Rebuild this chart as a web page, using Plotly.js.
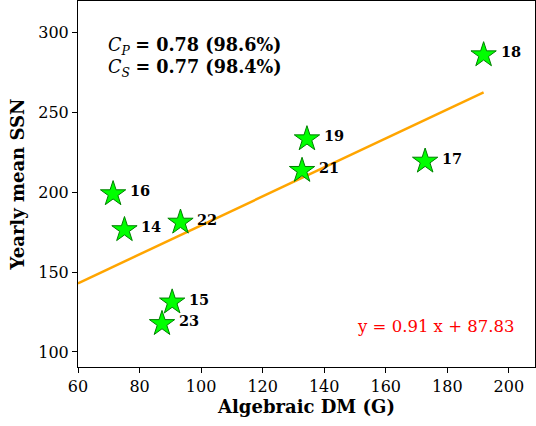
<!DOCTYPE html>
<html>
<head>
<meta charset="utf-8">
<script src="https://cdn.plot.ly/plotly-3.0.1.min.js"></script>
<style>html,body{margin:0;padding:0;background:#fff;}#chart{width:536px;height:426px;}</style>
</head>
<body>
<div id="chart"></div>
<script>
// Data
const cycles = ["14","15","16","17","18","19","21","22","23"];
const dmValues = [75.1, 90.6, 71.4, 172.8, 191.8, 134.4, 132.8, 93.3, 87.3];
const ssnValues = [176.5, 131.2, 199.0, 219.4, 286.0, 233.4, 213.6, 181.2, 117.7];
const fitX = [60, 191.8];
const fitY = [143.0, 262.6];
const statsLines = ["<i>C</i><sub><i>P</i></sub> <b>= 0.78 (98.6%)</b>", "<i>C</i><sub><i>S</i></sub> <b>= 0.77 (98.4%)</b>"];
const equationText = "y = 0.91 x + 87.83";

const serif = "DejaVu Serif";

const traces = [
  {
    x: fitX, y: fitY, mode: "lines", type: "scatter",
    line: {color: "orange", width: 2.5}, hoverinfo: "skip"
  },
  {
    x: dmValues, y: ssnValues, mode: "markers", type: "scatter",
    marker: {symbol: "star", size: 19, color: "#00ff00", line: {color: "#008000", width: 1}}
  }
];

const annotations = cycles.map((c, i) => ({
  x: dmValues[i], y: ssnValues[i], xref: "x", yref: "y",
  text: "<b>" + c + "</b>", showarrow: false,
  xanchor: "left", yanchor: "middle", xshift: 15, yshift: 3,
  font: {family: serif, size: 14.5, color: "black"}
}));

annotations.push({
  xref: "paper", yref: "paper", x: 0.061, y: 0.877,
  text: statsLines[0], showarrow: false, xanchor: "left", yanchor: "middle",
  font: {family: serif, size: 17.6, color: "black"}
});
annotations.push({
  xref: "paper", yref: "paper", x: 0.061, y: 0.818,
  text: statsLines[1], showarrow: false, xanchor: "left", yanchor: "middle",
  font: {family: serif, size: 17.6, color: "black"}
});
annotations.push({
  xref: "x", yref: "y", x: 150, y: 116,
  text: equationText, showarrow: false, xanchor: "left", yanchor: "middle",
  font: {family: serif, size: 16.5, color: "red"}
});

const layout = {
  width: 536, height: 426,
  margin: {l: 78, r: 1, t: 1, b: 59},
  paper_bgcolor: "white", plot_bgcolor: "white",
  showlegend: false,
  font: {family: serif, color: "black"},
  xaxis: {
    range: [60, 208.5], dtick: 20, tick0: 0,
    ticks: "outside", ticklen: 5, tickwidth: 1, tickcolor: "black",
    showline: true, mirror: true, linecolor: "black", linewidth: 1,
    showgrid: false, zeroline: false,
    tickfont: {family: serif, size: 16, color: "black"},
    title: {text: "<b>Algebraic DM (G)</b>", font: {family: serif, size: 18, color: "black"}, standoff: 5}
  },
  yaxis: {
    range: [90.6, 319.8], dtick: 50, tick0: 0,
    ticks: "outside", ticklen: 5, tickwidth: 1, tickcolor: "black",
    showline: true, mirror: true, linecolor: "black", linewidth: 1,
    showgrid: false, zeroline: false,
    tickfont: {family: serif, size: 16, color: "black"},
    title: {text: "<b>Yearly mean SSN</b>", font: {family: serif, size: 18, color: "black"}, standoff: 8}
  },
  annotations: annotations
};

Plotly.newPlot("chart", traces, layout, {displayModeBar: false, staticPlot: true});
</script>
</body>
</html>
